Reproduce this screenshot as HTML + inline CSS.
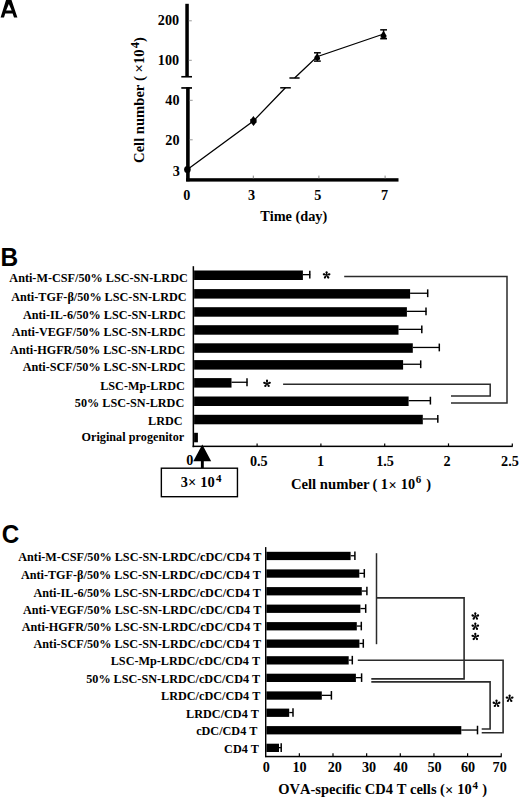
<!DOCTYPE html>
<html><head><meta charset="utf-8"><style>
html,body{margin:0;padding:0;background:#fff;}
svg{display:block;}
text{font-family:"Liberation Serif",serif;font-weight:bold;fill:#000;font-kerning:none;}
text.sansb{font-family:"Liberation Sans",sans-serif;font-weight:bold;}
text.sans{font-family:"Liberation Sans",sans-serif;font-weight:normal;stroke:#000;stroke-width:0.6px;stroke-linejoin:round;}
</style></head><body>
<svg width="520" height="798" viewBox="0 0 520 798">
<rect width="520" height="798" fill="#fff"/>
<path d="M0.6,17.4 L6.2,-0.6 L11.3,-0.6 L17.4,17.4 L14.0,17.4 L12.64,13.4 L5.24,13.4 L4.0,17.4 Z M6.1,10.6 L11.7,10.6 L8.85,3.9 Z" fill="#000" fill-rule="evenodd"/>
<rect x="185.30" y="3.80" width="3.50" height="73.00" fill="#000"/>
<line x1="181.30" y1="76.75" x2="192.00" y2="76.75" stroke="#000" stroke-width="1.6"/>
<rect x="186.10" y="87.30" width="3.60" height="94.00" fill="#000"/>
<line x1="181.30" y1="87.95" x2="192.00" y2="87.95" stroke="#000" stroke-width="1.7"/>
<line x1="188.80" y1="20.80" x2="191.80" y2="20.80" stroke="#999" stroke-width="1"/>
<line x1="188.80" y1="60.30" x2="191.80" y2="60.30" stroke="#999" stroke-width="1"/>
<line x1="189.70" y1="100.30" x2="192.70" y2="100.30" stroke="#999" stroke-width="1"/>
<line x1="189.70" y1="139.80" x2="192.70" y2="139.80" stroke="#999" stroke-width="1"/>
<text x="157.84" y="25.30" font-size="14.2" >200</text>
<text x="157.84" y="65.30" font-size="14.2" >100</text>
<text x="165.34" y="105.00" font-size="14.2" >40</text>
<text x="165.34" y="144.90" font-size="14.2" >20</text>
<text x="172.79" y="175.50" font-size="14.2" >3</text>
<rect x="186.10" y="178.20" width="212.40" height="3.40" fill="#000"/>
<line x1="253.30" y1="175.60" x2="253.30" y2="178.40" stroke="#888" stroke-width="1"/>
<line x1="318.90" y1="175.60" x2="318.90" y2="178.40" stroke="#888" stroke-width="1"/>
<line x1="385.10" y1="175.60" x2="385.10" y2="178.40" stroke="#888" stroke-width="1"/>
<text x="183.15" y="199.90" font-size="14.2" >0</text>
<text x="248.03" y="199.90" font-size="14.2" >3</text>
<text x="314.13" y="199.90" font-size="14.2" >5</text>
<text x="380.92" y="199.90" font-size="14.2" >7</text>
<text x="260.18" y="220.80" font-size="14.3" >Time (day)</text>
<g transform="translate(144,162.2) rotate(-90)">
<text x="-0.71" y="0" font-size="14.6">Cell number</text>
<text x="81.16" y="0.00" font-size="14.6" >(</text>
<text x="89.82" y="0.00" font-size="14.6" >×</text>
<text x="98.13" y="0.00" font-size="14.6" >10</text>
<text x="114.03" y="-5.20" font-size="12.5" >4</text>
<text x="120.23" y="0.00" font-size="14.6" >)</text>
</g>
<polyline points="187.40,169.50 253.40,121.00 285.40,87.70" fill="none" stroke="#000" stroke-width="1.3" stroke-linejoin="miter"/>
<line x1="280.20" y1="87.80" x2="290.80" y2="87.80" stroke="#000" stroke-width="1.5"/>
<line x1="289.40" y1="78.00" x2="299.60" y2="78.00" stroke="#000" stroke-width="1.5"/>
<polyline points="294.60,78.00 317.00,56.70 383.60,34.00" fill="none" stroke="#000" stroke-width="1.3" stroke-linejoin="miter"/>
<ellipse cx="187.4" cy="169.4" rx="3.3" ry="3.5" fill="#000"/>
<polygon points="253.4,116.1 255.2,118.4 256.6,119.3 256.6,122.6 255.4,123.6 253.5,125.9 251.6,123.6 250.2,122.6 250.2,119.3 251.6,118.4" fill="#000"/>
<line x1="317.40" y1="52.80" x2="317.40" y2="61.10" stroke="#000" stroke-width="1.3"/>
<line x1="314.00" y1="52.80" x2="320.80" y2="52.80" stroke="#000" stroke-width="1.5"/>
<line x1="314.00" y1="61.10" x2="320.80" y2="61.10" stroke="#000" stroke-width="1.5"/>
<polygon points="317.3,53.3 320.0,57.5 320.0,59.4 317.3,60.6 314.4,59.4 314.4,57.0" fill="#000"/>
<line x1="383.60" y1="29.85" x2="383.60" y2="38.70" stroke="#000" stroke-width="1.3"/>
<line x1="380.20" y1="29.85" x2="387.00" y2="29.85" stroke="#000" stroke-width="1.5"/>
<line x1="380.20" y1="38.70" x2="387.00" y2="38.70" stroke="#000" stroke-width="1.5"/>
<polygon points="383.5,30.5 386.4,35.5 386.4,37.6 383.5,38.6 380.6,37.6 380.6,35.5" fill="#000"/>
<text transform="translate(0.5,265.6) scale(0.98,1)" font-size="25" class="sansb">B</text>
<rect x="192.60" y="266.20" width="1.50" height="181.00" fill="#000"/>
<rect x="192.60" y="445.60" width="320.20" height="1.50" fill="#000"/>
<line x1="257.10" y1="443.40" x2="257.10" y2="446.00" stroke="#000" stroke-width="1.2"/>
<line x1="320.90" y1="443.40" x2="320.90" y2="446.00" stroke="#000" stroke-width="1.2"/>
<line x1="384.70" y1="443.40" x2="384.70" y2="446.00" stroke="#000" stroke-width="1.2"/>
<line x1="448.50" y1="443.40" x2="448.50" y2="446.00" stroke="#000" stroke-width="1.2"/>
<line x1="512.30" y1="443.40" x2="512.30" y2="446.00" stroke="#000" stroke-width="1.2"/>
<text x="9.33" y="282.30" font-size="12.2" >Anti-M-CSF/50% LSC-SN-LRDC</text>
<rect x="194.10" y="270.50" width="108.80" height="9.50" fill="#000"/>
<line x1="302.90" y1="274.65" x2="310.20" y2="274.65" stroke="#000" stroke-width="1.3"/>
<line x1="309.80" y1="270.75" x2="309.80" y2="278.55" stroke="#000" stroke-width="1.5"/>
<text x="11.19" y="300.50" font-size="12.2" >Anti-TGF-β/50% LSC-SN-LRDC</text>
<rect x="194.10" y="289.10" width="216.00" height="9.50" fill="#000"/>
<line x1="410.10" y1="293.25" x2="428.10" y2="293.25" stroke="#000" stroke-width="1.3"/>
<line x1="427.70" y1="289.35" x2="427.70" y2="297.15" stroke="#000" stroke-width="1.5"/>
<text x="22.91" y="318.60" font-size="12.2" >Anti-IL-6/50% LSC-SN-LRDC</text>
<rect x="194.10" y="307.20" width="212.80" height="9.50" fill="#000"/>
<line x1="406.90" y1="311.35" x2="426.40" y2="311.35" stroke="#000" stroke-width="1.3"/>
<line x1="426.00" y1="307.45" x2="426.00" y2="315.25" stroke="#000" stroke-width="1.5"/>
<text x="11.87" y="336.10" font-size="12.2" >Anti-VEGF/50% LSC-SN-LRDC</text>
<rect x="194.10" y="325.20" width="204.40" height="9.50" fill="#000"/>
<line x1="398.50" y1="329.35" x2="422.20" y2="329.35" stroke="#000" stroke-width="1.3"/>
<line x1="421.80" y1="325.45" x2="421.80" y2="333.25" stroke="#000" stroke-width="1.5"/>
<text x="10.12" y="353.70" font-size="12.2" >Anti-HGFR/50% LSC-SN-LRDC</text>
<rect x="194.10" y="343.30" width="218.70" height="9.50" fill="#000"/>
<line x1="412.80" y1="347.45" x2="439.70" y2="347.45" stroke="#000" stroke-width="1.3"/>
<line x1="439.30" y1="343.55" x2="439.30" y2="351.35" stroke="#000" stroke-width="1.5"/>
<text x="22.71" y="371.30" font-size="12.2" >Anti-SCF/50% LSC-SN-LRDC</text>
<rect x="194.10" y="360.10" width="209.00" height="9.50" fill="#000"/>
<line x1="403.10" y1="364.25" x2="421.10" y2="364.25" stroke="#000" stroke-width="1.3"/>
<line x1="420.70" y1="360.35" x2="420.70" y2="368.15" stroke="#000" stroke-width="1.5"/>
<text x="100.20" y="390.00" font-size="12.2" >LSC-Mp-LRDC</text>
<rect x="194.10" y="378.10" width="37.40" height="9.50" fill="#000"/>
<line x1="231.50" y1="382.25" x2="247.40" y2="382.25" stroke="#000" stroke-width="1.3"/>
<line x1="247.00" y1="378.35" x2="247.00" y2="386.15" stroke="#000" stroke-width="1.5"/>
<text x="74.86" y="407.10" font-size="12.2" >50% LSC-SN-LRDC</text>
<rect x="194.10" y="396.50" width="214.50" height="9.50" fill="#000"/>
<line x1="408.60" y1="400.65" x2="430.80" y2="400.65" stroke="#000" stroke-width="1.3"/>
<line x1="430.40" y1="396.75" x2="430.40" y2="404.55" stroke="#000" stroke-width="1.5"/>
<text x="148.06" y="424.80" font-size="12.2" >LRDC</text>
<rect x="194.10" y="414.80" width="228.70" height="9.50" fill="#000"/>
<line x1="422.80" y1="418.95" x2="438.20" y2="418.95" stroke="#000" stroke-width="1.3"/>
<line x1="437.80" y1="415.05" x2="437.80" y2="422.85" stroke="#000" stroke-width="1.5"/>
<text x="81.59" y="441.00" font-size="12.2" >Original progenitor</text>
<rect x="194.10" y="432.80" width="3.80" height="9.50" fill="#000"/>
<text x="186.14" y="465.20" font-size="14.2" >0</text>
<text x="249.91" y="465.50" font-size="14.2" >0.5</text>
<text x="316.95" y="465.50" font-size="14.2" >1</text>
<text x="376.22" y="465.50" font-size="14.2" >1.5</text>
<text x="443.46" y="465.50" font-size="14.2" >2</text>
<text x="501.09" y="465.50" font-size="14.2" >2.5</text>
<g><polygon points="326.95,275.20 327.65,272.25 325.55,272.25 326.25,275.20" fill="#000"/><circle cx="326.60" cy="272.25" r="1.05" fill="#000"/><polygon points="326.71,275.53 329.73,275.29 329.08,273.29 326.49,274.87" fill="#000"/><circle cx="329.41" cy="274.29" r="1.05" fill="#000"/><polygon points="326.32,275.41 327.48,278.20 329.18,276.97 326.88,274.99" fill="#000"/><circle cx="328.33" cy="277.59" r="1.05" fill="#000"/><polygon points="326.32,274.99 324.02,276.97 325.72,278.20 326.88,275.41" fill="#000"/><circle cx="324.87" cy="277.59" r="1.05" fill="#000"/><polygon points="326.71,274.87 324.12,273.29 323.47,275.29 326.49,275.53" fill="#000"/><circle cx="323.79" cy="274.29" r="1.05" fill="#000"/></g>
<g><polygon points="267.35,383.60 268.05,380.65 265.95,380.65 266.65,383.60" fill="#000"/><circle cx="267.00" cy="380.65" r="1.05" fill="#000"/><polygon points="267.11,383.93 270.13,383.69 269.48,381.69 266.89,383.27" fill="#000"/><circle cx="269.81" cy="382.69" r="1.05" fill="#000"/><polygon points="266.72,383.81 267.88,386.60 269.58,385.37 267.28,383.39" fill="#000"/><circle cx="268.73" cy="385.99" r="1.05" fill="#000"/><polygon points="266.72,383.39 264.42,385.37 266.12,386.60 267.28,383.81" fill="#000"/><circle cx="265.27" cy="385.99" r="1.05" fill="#000"/><polygon points="267.11,383.27 264.52,381.69 263.87,383.69 266.89,383.93" fill="#000"/><circle cx="264.19" cy="382.69" r="1.05" fill="#000"/></g>
<polyline points="344.20,276.40 507.00,276.40 507.00,402.90 451.00,402.90" fill="none" stroke="#2b2b2b" stroke-width="1.5" stroke-linejoin="miter"/>
<polyline points="283.10,384.20 490.20,384.20 490.20,395.90 451.00,395.90" fill="none" stroke="#2b2b2b" stroke-width="1.5" stroke-linejoin="miter"/>
<polygon points="202.3,444.4 193.3,461.3 211.2,461.3" fill="#000"/>
<rect x="200.90" y="460.00" width="2.90" height="8.00" fill="#000"/>
<rect x="161.35" y="468.2" width="76.1" height="28.5" fill="none" stroke="#000" stroke-width="1.4"/>
<text x="180.67" y="487.30" font-size="14.2" >3</text>
<text x="187.90" y="487.22" font-size="14.5">×</text>
<text x="200.34" y="487.30" font-size="14.5" >10</text>
<text x="216.05" y="481.90" font-size="11" >4</text>
<text x="290.88" y="489.30" font-size="14.7" >Cell number</text>
<text x="372.50" y="489.30" font-size="14.5" >(</text>
<text x="380.82" y="489.30" font-size="14.5" >1</text>
<text x="388.50" y="489.57" font-size="14.5">×</text>
<text x="400.85" y="489.30" font-size="14.3" >10</text>
<text x="415.72" y="483.30" font-size="11" >6</text>
<text x="426.27" y="489.30" font-size="14.5" >)</text>
<text transform="translate(1.7,543.0) scale(0.95,1)" font-size="25.5" class="sansb">C</text>
<rect x="265.00" y="547.10" width="1.40" height="210.00" fill="#000"/>
<rect x="265.00" y="755.80" width="236.80" height="1.50" fill="#000"/>
<line x1="299.35" y1="753.20" x2="299.35" y2="756.00" stroke="#000" stroke-width="1.2"/>
<line x1="333.00" y1="753.20" x2="333.00" y2="756.00" stroke="#000" stroke-width="1.2"/>
<line x1="366.65" y1="753.20" x2="366.65" y2="756.00" stroke="#000" stroke-width="1.2"/>
<line x1="400.30" y1="753.20" x2="400.30" y2="756.00" stroke="#000" stroke-width="1.2"/>
<line x1="433.95" y1="753.20" x2="433.95" y2="756.00" stroke="#000" stroke-width="1.2"/>
<line x1="467.60" y1="753.20" x2="467.60" y2="756.00" stroke="#000" stroke-width="1.2"/>
<line x1="501.25" y1="753.20" x2="501.25" y2="756.00" stroke="#000" stroke-width="1.2"/>
<text x="18.26" y="560.60" font-size="12.2" >Anti-M-CSF/50% LSC-SN-LRDC/cDC/CD4 T</text>
<rect x="266.40" y="551.80" width="84.20" height="8.30" fill="#000"/>
<line x1="350.60" y1="555.75" x2="354.90" y2="555.75" stroke="#000" stroke-width="1.3"/>
<line x1="354.90" y1="551.45" x2="354.90" y2="560.05" stroke="#000" stroke-width="1.5"/>
<text x="20.92" y="579.00" font-size="12.2" >Anti-TGF-β/50% LSC-SN-LRDC/cDC/CD4 T</text>
<rect x="266.40" y="569.40" width="92.90" height="8.30" fill="#000"/>
<line x1="359.30" y1="573.35" x2="364.30" y2="573.35" stroke="#000" stroke-width="1.3"/>
<line x1="364.30" y1="569.05" x2="364.30" y2="577.65" stroke="#000" stroke-width="1.5"/>
<text x="33.44" y="596.70" font-size="12.2" >Anti-IL-6/50% LSC-SN-LRDC/cDC/CD4 T</text>
<rect x="266.40" y="587.10" width="95.40" height="8.30" fill="#000"/>
<line x1="361.80" y1="591.05" x2="366.90" y2="591.05" stroke="#000" stroke-width="1.3"/>
<line x1="366.90" y1="586.75" x2="366.90" y2="595.35" stroke="#000" stroke-width="1.5"/>
<text x="23.00" y="614.20" font-size="12.2" >Anti-VEGF/50% LSC-SN-LRDC/cDC/CD4 T</text>
<rect x="266.40" y="604.60" width="94.00" height="8.30" fill="#000"/>
<line x1="360.40" y1="608.55" x2="365.70" y2="608.55" stroke="#000" stroke-width="1.3"/>
<line x1="365.70" y1="604.25" x2="365.70" y2="612.85" stroke="#000" stroke-width="1.5"/>
<text x="21.75" y="631.00" font-size="12.2" >Anti-HGFR/50% LSC-SN-LRDC/cDC/CD4 T</text>
<rect x="266.40" y="622.10" width="90.40" height="8.30" fill="#000"/>
<line x1="356.80" y1="626.05" x2="361.30" y2="626.05" stroke="#000" stroke-width="1.3"/>
<line x1="361.30" y1="621.75" x2="361.30" y2="630.35" stroke="#000" stroke-width="1.5"/>
<text x="33.54" y="647.70" font-size="12.2" >Anti-SCF/50% LSC-SN-LRDC/cDC/CD4 T</text>
<rect x="266.40" y="639.50" width="93.00" height="8.30" fill="#000"/>
<line x1="359.40" y1="643.45" x2="363.30" y2="643.45" stroke="#000" stroke-width="1.3"/>
<line x1="363.30" y1="639.15" x2="363.30" y2="647.75" stroke="#000" stroke-width="1.5"/>
<text x="110.73" y="664.80" font-size="12.2" >LSC-Mp-LRDC/cDC/CD4 T</text>
<rect x="266.40" y="656.20" width="82.30" height="8.30" fill="#000"/>
<line x1="348.70" y1="660.15" x2="352.30" y2="660.15" stroke="#000" stroke-width="1.3"/>
<line x1="352.30" y1="655.85" x2="352.30" y2="664.45" stroke="#000" stroke-width="1.5"/>
<text x="86.19" y="682.90" font-size="12.2" >50% LSC-SN-LRDC/cDC/CD4 T</text>
<rect x="266.40" y="673.70" width="89.50" height="8.30" fill="#000"/>
<line x1="355.90" y1="677.65" x2="361.60" y2="677.65" stroke="#000" stroke-width="1.3"/>
<line x1="361.60" y1="673.35" x2="361.60" y2="681.95" stroke="#000" stroke-width="1.5"/>
<text x="161.09" y="700.40" font-size="12.2" >LRDC/cDC/CD4 T</text>
<rect x="266.40" y="691.40" width="55.40" height="8.30" fill="#000"/>
<line x1="321.80" y1="695.35" x2="331.40" y2="695.35" stroke="#000" stroke-width="1.3"/>
<line x1="331.40" y1="691.05" x2="331.40" y2="699.65" stroke="#000" stroke-width="1.5"/>
<text x="186.12" y="717.60" font-size="12.2" >LRDC/CD4 T</text>
<rect x="266.40" y="708.60" width="22.80" height="8.30" fill="#000"/>
<line x1="289.20" y1="712.55" x2="293.00" y2="712.55" stroke="#000" stroke-width="1.3"/>
<line x1="293.00" y1="708.25" x2="293.00" y2="716.85" stroke="#000" stroke-width="1.5"/>
<text x="196.15" y="735.00" font-size="12.2" >cDC/CD4 T</text>
<rect x="266.40" y="726.10" width="194.90" height="8.30" fill="#000"/>
<line x1="461.30" y1="730.05" x2="477.50" y2="730.05" stroke="#000" stroke-width="1.3"/>
<line x1="477.50" y1="725.75" x2="477.50" y2="734.35" stroke="#000" stroke-width="1.5"/>
<text x="224.08" y="752.60" font-size="12.2" >CD4 T</text>
<rect x="266.40" y="743.70" width="12.60" height="8.30" fill="#000"/>
<line x1="279.00" y1="747.65" x2="281.20" y2="747.65" stroke="#000" stroke-width="1.3"/>
<line x1="281.20" y1="743.35" x2="281.20" y2="751.95" stroke="#000" stroke-width="1.5"/>
<text x="262.85" y="772.00" font-size="14.2" >0</text>
<text x="292.50" y="772.00" font-size="14.2" >10</text>
<text x="327.67" y="772.00" font-size="14.2" >20</text>
<text x="361.90" y="772.00" font-size="14.2" >30</text>
<text x="393.57" y="772.00" font-size="14.2" >40</text>
<text x="427.39" y="772.00" font-size="14.2" >50</text>
<text x="460.93" y="772.00" font-size="14.2" >60</text>
<text x="492.56" y="772.00" font-size="14.2" >70</text>
<text x="278.29" y="793.90" font-size="14.5" >OVA-specific CD4 T cells</text>
<text x="440.00" y="793.90" font-size="14.5" >(</text>
<text x="444.90" y="794.52" font-size="14.5">×</text>
<text x="457.24" y="794.10" font-size="14.5" >10</text>
<text x="472.45" y="789.00" font-size="11" >4</text>
<text x="482.27" y="793.90" font-size="14.5" >)</text>
<polyline points="376.50,553.20 376.50,644.20" fill="none" stroke="#2b2b2b" stroke-width="1.5" stroke-linejoin="miter"/>
<polyline points="376.50,597.90 464.10,597.90 464.10,678.90 371.30,678.90" fill="none" stroke="#2b2b2b" stroke-width="1.6" stroke-linejoin="miter"/>
<polyline points="357.80,660.20 503.10,660.20 503.10,732.80 481.70,732.80" fill="none" stroke="#2b2b2b" stroke-width="1.6" stroke-linejoin="miter"/>
<polyline points="371.30,681.90 490.10,681.90 490.10,729.00 481.70,729.00" fill="none" stroke="#2b2b2b" stroke-width="1.6" stroke-linejoin="miter"/>
<g><polygon points="475.65,616.30 476.35,613.35 474.25,613.35 474.95,616.30" fill="#000"/><circle cx="475.30" cy="613.35" r="1.05" fill="#000"/><polygon points="475.41,616.63 478.43,616.39 477.78,614.39 475.19,615.97" fill="#000"/><circle cx="478.11" cy="615.39" r="1.05" fill="#000"/><polygon points="475.02,616.51 476.18,619.30 477.88,618.07 475.58,616.09" fill="#000"/><circle cx="477.03" cy="618.69" r="1.05" fill="#000"/><polygon points="475.02,616.09 472.72,618.07 474.42,619.30 475.58,616.51" fill="#000"/><circle cx="473.57" cy="618.69" r="1.05" fill="#000"/><polygon points="475.41,615.97 472.82,614.39 472.17,616.39 475.19,616.63" fill="#000"/><circle cx="472.49" cy="615.39" r="1.05" fill="#000"/></g>
<g><polygon points="475.65,626.50 476.35,623.55 474.25,623.55 474.95,626.50" fill="#000"/><circle cx="475.30" cy="623.55" r="1.05" fill="#000"/><polygon points="475.41,626.83 478.43,626.59 477.78,624.59 475.19,626.17" fill="#000"/><circle cx="478.11" cy="625.59" r="1.05" fill="#000"/><polygon points="475.02,626.71 476.18,629.50 477.88,628.27 475.58,626.29" fill="#000"/><circle cx="477.03" cy="628.89" r="1.05" fill="#000"/><polygon points="475.02,626.29 472.72,628.27 474.42,629.50 475.58,626.71" fill="#000"/><circle cx="473.57" cy="628.89" r="1.05" fill="#000"/><polygon points="475.41,626.17 472.82,624.59 472.17,626.59 475.19,626.83" fill="#000"/><circle cx="472.49" cy="625.59" r="1.05" fill="#000"/></g>
<g><polygon points="475.65,636.70 476.35,633.75 474.25,633.75 474.95,636.70" fill="#000"/><circle cx="475.30" cy="633.75" r="1.05" fill="#000"/><polygon points="475.41,637.03 478.43,636.79 477.78,634.79 475.19,636.37" fill="#000"/><circle cx="478.11" cy="635.79" r="1.05" fill="#000"/><polygon points="475.02,636.91 476.18,639.70 477.88,638.47 475.58,636.49" fill="#000"/><circle cx="477.03" cy="639.09" r="1.05" fill="#000"/><polygon points="475.02,636.49 472.72,638.47 474.42,639.70 475.58,636.91" fill="#000"/><circle cx="473.57" cy="639.09" r="1.05" fill="#000"/><polygon points="475.41,636.37 472.82,634.79 472.17,636.79 475.19,637.03" fill="#000"/><circle cx="472.49" cy="635.79" r="1.05" fill="#000"/></g>
<g><polygon points="496.85,703.60 497.55,700.55 495.45,700.55 496.15,703.60" fill="#000"/><circle cx="496.50" cy="700.55" r="1.05" fill="#000"/><polygon points="496.61,703.93 499.73,703.66 499.08,701.66 496.39,703.27" fill="#000"/><circle cx="499.40" cy="702.66" r="1.05" fill="#000"/><polygon points="496.22,703.81 497.44,706.68 499.14,705.45 496.78,703.39" fill="#000"/><circle cx="498.29" cy="706.07" r="1.05" fill="#000"/><polygon points="496.22,703.39 493.86,705.45 495.56,706.68 496.78,703.81" fill="#000"/><circle cx="494.71" cy="706.07" r="1.05" fill="#000"/><polygon points="496.61,703.27 493.92,701.66 493.27,703.66 496.39,703.93" fill="#000"/><circle cx="493.60" cy="702.66" r="1.05" fill="#000"/></g>
<g><polygon points="509.95,698.50 510.65,695.45 508.55,695.45 509.25,698.50" fill="#000"/><circle cx="509.60" cy="695.45" r="1.05" fill="#000"/><polygon points="509.71,698.83 512.83,698.56 512.18,696.56 509.49,698.17" fill="#000"/><circle cx="512.50" cy="697.56" r="1.05" fill="#000"/><polygon points="509.32,698.71 510.54,701.58 512.24,700.35 509.88,698.29" fill="#000"/><circle cx="511.39" cy="700.97" r="1.05" fill="#000"/><polygon points="509.32,698.29 506.96,700.35 508.66,701.58 509.88,698.71" fill="#000"/><circle cx="507.81" cy="700.97" r="1.05" fill="#000"/><polygon points="509.71,698.17 507.02,696.56 506.37,698.56 509.49,698.83" fill="#000"/><circle cx="506.70" cy="697.56" r="1.05" fill="#000"/></g>
</svg>
</body></html>
